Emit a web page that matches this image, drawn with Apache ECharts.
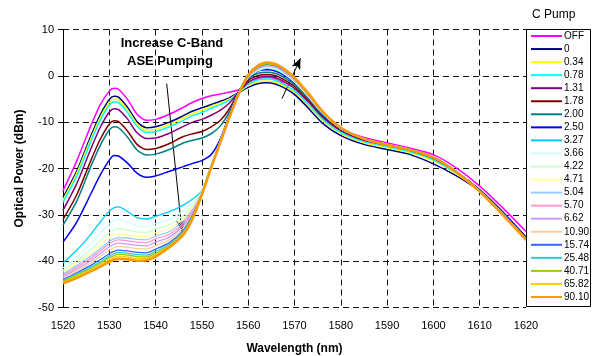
<!DOCTYPE html>
<html>
<head>
<meta charset="utf-8">
<script src="https://cdn.jsdelivr.net/npm/echarts@6/dist/echarts.min.js"></script>
<style>
  html, body { margin: 0; padding: 0; background: #fff; }
  #chart { width: 602px; height: 356px; }
</style>
</head>
<body>
<div id="chart"></div>
<script>
// Wavelength sample points (nm)
const wavelengths = [1520,1523,1526,1528,1530,1531,1532,1534,1536,1538,1540,1543,1546,1548,1550,
  1552,1554,1556,1558,1560,1562,1564,1566,1568,1570,1573,1576,1580,1585,1590,1595,1600,1605,1610,1615,1620];

// C-band pump levels shown in the legend
const pumpLabels = ['OFF','0','0.34','0.78','1.31','1.78','2.00','2.50','3.27','3.66','4.22','4.71',
  '5.04','5.70','6.62','10.90','15.74','25.48','40.71','65.82','90.10'];

// Optical power (dBm) per pump level
const pOFF  = [-24.8,-18.3,-10.8,-6.3,-3.3,-2.7,-2.9,-5.2,-8.3,-9.6,-9.4,-8.3,-6.8,-5.7,-4.9,
  -4.3,-3.9,-3.5,-3.0,-1.9,-0.8,-0.3,-0.7,-1.9,-3.6,-6.5,-9.2,-11.5,-13.3,-14.5,-15.6,-17.0,-19.9,-23.8,-28.5,-33.6];
const p0    = [-26.3,-20.5,-13.0,-8.5,-5.1,-4.4,-4.6,-6.9,-9.9,-11.2,-11.0,-10.0,-8.6,-7.6,-6.9,
  -6.2,-5.5,-4.7,-3.6,-2.5,-1.7,-1.5,-1.8,-2.7,-4.0,-7.0,-10.2,-12.9,-14.8,-15.9,-17.0,-19.0,-21.6,-24.9,-29.6,-35.0];
const p034  = [-26.8,-21.0,-13.6,-9.1,-5.7,-5.0,-5.2,-7.4,-10.4,-11.7,-11.5,-10.5,-9.1,-8.1,-7.4,
  -6.6,-5.9,-5.0,-3.6,-2.1,-1.3,-1.1,-1.4,-2.3,-3.5,-6.4,-9.6,-12.4,-14.4,-15.5,-16.6,-18.3,-21.2,-24.8,-29.6,-35.0];
const p078  = [-27.3,-21.6,-14.2,-9.7,-6.3,-5.6,-5.8,-8.0,-10.9,-12.2,-12.0,-11.0,-9.6,-8.6,-7.9,
  -7.0,-6.2,-5.2,-3.6,-1.8,-0.9,-0.7,-1.0,-2.0,-3.2,-6.1,-9.3,-12.2,-14.2,-15.3,-16.4,-18.1,-21.0,-24.7,-29.5,-34.9];
const p131  = [-29.0,-23.2,-15.8,-11.2,-7.8,-7.1,-7.3,-9.4,-12.3,-13.5,-13.4,-12.4,-10.9,-10.0,-9.4,
  -8.5,-7.4,-5.8,-3.4,-1.4,-0.4,-0.1,-0.4,-1.4,-2.7,-5.6,-8.8,-11.8,-13.9,-15.0,-16.1,-17.8,-20.8,-24.6,-29.4,-34.8];
const p178  = [-31.0,-25.6,-18.3,-13.8,-10.4,-9.7,-9.9,-12.0,-14.8,-15.9,-15.7,-14.6,-13.1,-12.5,-12.0,
  -11.0,-9.6,-7.0,-3.3,-1.0,0.0,0.3,0.0,-1.0,-2.3,-5.2,-8.5,-11.6,-13.7,-14.9,-16.0,-17.7,-20.7,-24.6,-29.4,-34.9];
const p200  = [-32.2,-27.0,-19.6,-15.1,-11.7,-11.0,-11.2,-13.3,-16.0,-17.1,-16.9,-15.9,-14.5,-13.9,-13.4,
  -12.5,-10.8,-7.6,-3.3,-0.6,0.5,0.8,0.5,-0.5,-1.9,-4.9,-8.3,-11.5,-13.6,-14.8,-15.9,-17.6,-20.7,-24.7,-29.5,-35.0];
const p250  = [-35.9,-31.5,-25.5,-21.5,-18.2,-17.2,-17.3,-18.9,-21.0,-21.9,-21.6,-20.6,-19.6,-18.9,-18.3,
  -17.0,-13.6,-8.2,-3.3,-0.6,1.0,1.3,1.0,0.0,-1.5,-4.6,-8.1,-11.4,-13.6,-14.8,-15.9,-17.6,-20.8,-24.8,-29.6,-35.1];
const p327  = [-40.4,-37.6,-34.2,-31.6,-29.2,-28.5,-28.3,-29.3,-30.6,-30.9,-30.3,-29.3,-27.9,-26.6,-24.8,
  -19.2,-14.0,-8.5,-3.5,-0.4,1.0,1.6,1.3,0.2,-1.4,-4.6,-8.1,-11.4,-13.6,-14.8,-15.9,-17.5,-20.6,-24.8,-29.8,-35.2];
const p366  = [-41.5,-39.0,-36.3,-34.0,-32.0,-31.3,-31.0,-31.6,-32.4,-32.6,-31.9,-31.0,-29.2,-27.4,-25.0,
  -19.3,-14.0,-8.5,-3.5,-0.4,1.1,1.75,1.4,0.3,-1.3,-4.5,-8.0,-11.4,-13.6,-14.8,-15.9,-17.5,-20.7,-24.9,-29.8,-35.2];
const p422  = [-42.0,-39.8,-37.5,-35.6,-33.9,-33.3,-33.0,-33.3,-33.7,-33.8,-33.0,-32.1,-30.1,-28.0,-25.1,
  -19.4,-14.1,-8.6,-3.6,-0.3,1.2,1.9,1.55,0.45,-1.2,-4.4,-8.0,-11.3,-13.6,-14.8,-15.9,-17.5,-20.7,-24.9,-29.8,-35.2];
const p471  = [-42.4,-40.4,-38.3,-36.5,-34.9,-34.4,-34.1,-34.3,-34.6,-34.7,-33.9,-33.0,-30.8,-28.4,-25.2,
  -19.5,-14.1,-8.6,-3.6,-0.2,1.3,2.0,1.65,0.55,-1.1,-4.3,-7.9,-11.3,-13.6,-14.8,-15.9,-17.5,-20.7,-24.9,-29.9,-35.3];
const p504  = [-42.8,-40.9,-38.9,-37.3,-35.7,-35.2,-34.9,-35.0,-35.3,-35.4,-34.6,-33.6,-31.3,-28.8,-25.3,
  -19.5,-14.2,-8.7,-3.7,-0.2,1.4,2.1,1.75,0.6,-1.0,-4.2,-7.9,-11.3,-13.6,-14.8,-15.9,-17.5,-20.7,-24.9,-29.9,-35.3];
const p570  = [-43.1,-41.3,-39.4,-37.8,-36.2,-35.7,-35.4,-35.6,-35.9,-36.0,-35.2,-34.2,-31.8,-29.1,-25.4,
  -19.6,-14.2,-8.7,-3.7,-0.1,1.5,2.2,1.85,0.7,-0.9,-4.2,-7.8,-11.3,-13.6,-14.8,-15.9,-17.6,-20.8,-25.0,-29.9,-35.3];
const p662  = [-43.4,-41.7,-39.9,-38.4,-36.9,-36.4,-36.1,-36.3,-36.6,-36.7,-35.9,-34.8,-32.3,-29.4,-25.4,
  -19.6,-14.2,-8.7,-3.7,-0.1,1.6,2.3,1.95,0.8,-0.8,-4.1,-7.8,-11.2,-13.6,-14.9,-16.0,-17.6,-20.8,-25.0,-29.9,-35.3];
const p1090 = [-43.7,-42.1,-40.4,-39.0,-37.6,-37.1,-36.8,-37.0,-37.3,-37.4,-36.6,-35.4,-32.8,-29.7,-25.5,
  -19.7,-14.2,-8.7,-3.7,0.0,1.7,2.4,2.05,0.9,-0.7,-4.0,-7.7,-11.2,-13.6,-14.9,-16.0,-17.6,-20.8,-25.0,-30.0,-35.4];
const p1574 = [-44.0,-42.5,-40.9,-39.7,-38.4,-37.9,-37.6,-37.8,-38.1,-38.2,-37.4,-36.0,-33.3,-30.0,-25.5,
  -19.7,-14.3,-8.8,-3.8,0.0,1.8,2.5,2.15,1.0,-0.6,-4.0,-7.7,-11.2,-13.6,-14.9,-16.0,-17.6,-20.8,-25.0,-30.0,-35.4];
const p2548 = [-44.2,-42.8,-41.3,-40.2,-38.9,-38.4,-38.1,-38.3,-38.6,-38.7,-37.9,-36.4,-33.6,-30.2,-25.6,
  -19.7,-14.3,-8.8,-3.8,0.1,1.9,2.6,2.25,1.1,-0.6,-3.9,-7.7,-11.2,-13.6,-14.9,-16.0,-17.6,-20.8,-25.0,-30.0,-35.4];
const p4071 = [-44.4,-43.0,-41.6,-40.5,-39.3,-38.8,-38.5,-38.7,-39.0,-39.1,-38.3,-36.6,-33.8,-30.4,-25.6,
  -19.8,-14.3,-8.8,-3.8,0.1,1.95,2.65,2.3,1.15,-0.5,-3.9,-7.6,-11.2,-13.6,-14.9,-16.0,-17.6,-20.8,-25.0,-30.0,-35.4];
const p6582 = [-44.6,-43.3,-41.9,-40.9,-39.7,-39.2,-38.9,-39.1,-39.4,-39.4,-38.6,-36.8,-34.0,-30.6,-25.6,
  -19.8,-14.3,-8.8,-3.8,0.2,2.0,2.75,2.4,1.2,-0.5,-3.8,-7.6,-11.2,-13.6,-14.9,-16.0,-17.6,-20.8,-25.0,-30.0,-35.4];
const p9010 = [-44.8,-43.6,-42.2,-41.2,-40.2,-39.7,-39.5,-39.6,-39.9,-39.8,-39.0,-37.0,-34.3,-30.8,-25.6,
  -19.8,-14.3,-8.8,-3.8,0.2,2.1,2.85,2.5,1.3,-0.4,-3.8,-7.6,-11.2,-13.6,-14.9,-16.0,-17.6,-20.8,-25.0,-30.0,-35.4];

const powerSeries = [pOFF,p0,p034,p078,p131,p178,p200,p250,p327,p366,p422,p471,
  p504,p570,p662,p1090,p1574,p2548,p4071,p6582,p9010];

// Classic spreadsheet line palette, one per pump level
const lineColors = ['#FF00FF','#000080','#FFFF00','#00FFFF','#800080','#800000','#008080','#0000FF',
  '#00CCFF','#CCFFFF','#CCFFCC','#FFFF99','#99CCFF','#FF99CC','#CC99FF','#FFCC99','#3366FF',
  '#33CCCC','#99CC00','#FFCC00','#FF9900'];

// Trend arrows: [start wavelength, start power, end wavelength, end power]
const trendArrows = [
  [1542.4, -1.7, 1545.7, -33.6],
  [1567.3, -4.9, 1571.3, 3.8]
];

const FONT = "'Liberation Sans', Arial, sans-serif";
const chart = echarts.init(document.getElementById('chart'), null, { renderer: 'canvas' });

const series = powerSeries.map((vals, i) => ({
  name: pumpLabels[i],
  type: 'line',
  data: wavelengths.map((w, k) => [w, vals[k]]),
  symbol: 'none',
  smooth: 0.25,
  color: lineColors[i],
  lineStyle: {
    color: lineColors[i],
    width: i === pumpLabels.length - 1 ? 2.6 : (i < 8 ? 1.5 : 1.3)
  },
  emphasis: { disabled: true },
  z: 2 + i
}));

series.push({
  name: 'arrows',
  type: 'line',
  data: [],
  silent: true,
  markLine: {
    silent: true,
    symbol: ['none', 'arrow'],
    symbolSize: [7, 11],
    lineStyle: { color: '#000', width: 1, type: 'solid' },
    label: { show: false },
    emphasis: { disabled: true },
    data: trendArrows.map(a => [{ coord: [a[0], a[1]] }, { coord: [a[2], a[3]] }])
  },
  z: 40
});

const dashStyle = { color: '#111', width: 1, type: [6, 4] };

chart.setOption({
  animation: false,
  backgroundColor: '#fff',
  grid: {
    left: 63, top: 29.5, width: 463, height: 278,
    containLabel: false, outerBoundsMode: 'none'
  },
  xAxis: {
    type: 'value',
    min: 1520, max: 1620, interval: 10,
    name: 'Wavelength (nm)',
    nameLocation: 'middle',
    nameGap: 35,
    nameTextStyle: { fontFamily: FONT, fontSize: 12, fontWeight: 'bold', color: '#000' },
    axisLine: { show: false },
    axisTick: { show: false },
    axisLabel: { fontFamily: FONT, fontSize: 11, color: '#000', margin: 13,
                 formatter: v => String(v) },
    splitLine: { show: true, lineStyle: dashStyle }
  },
  yAxis: [{
    type: 'value',
    min: -50, max: 10, interval: 10,
    name: 'Optical Power (dBm)',
    nameLocation: 'middle',
    nameGap: 37,
    nameRotate: 90,
    nameTextStyle: { fontFamily: FONT, fontSize: 12, fontWeight: 'bold', color: '#000' },
    axisLine: { show: true, lineStyle: { color: '#000', width: 1 } },
    axisTick: { show: true, inside: false, length: 5, lineStyle: { color: '#000' } },
    axisLabel: { fontFamily: FONT, fontSize: 11, color: '#000', margin: 9 },
    splitLine: { show: true, lineStyle: dashStyle }
  }],
  legend: {
    orient: 'vertical',
    left: 531, top: 31,
    padding: 0,
    itemWidth: 31,
    itemHeight: 2,
    itemGap: 3.05,
    icon: 'rect',
    data: pumpLabels,
    selectedMode: false,
    textStyle: { fontFamily: FONT, fontSize: 10, color: '#000', padding: [0, 0, 0, -3] }
  },
  graphic: [
    { type: 'rect', shape: { x: 526.5, y: 29.5, width: 64, height: 277 },
      style: { fill: 'none', stroke: '#000', lineWidth: 1 }, z: 100 },
    { type: 'text', left: 532, top: 9,
      style: { text: 'C Pump', font: "12px " + FONT, fill: '#000' }, z: 100 },
    { type: 'text', x: 172, y: 43,
      style: { text: 'Increase C-Band', font: "bold 13px " + FONT, fill: '#000',
               align: 'center', verticalAlign: 'middle' }, z: 100 },
    { type: 'text', x: 170, y: 61.5,
      style: { text: 'ASE Pumping', font: "bold 13px " + FONT, fill: '#000',
               align: 'center', verticalAlign: 'middle' }, z: 100 }
  ],
  series: series
});
</script>
</body>
</html>
